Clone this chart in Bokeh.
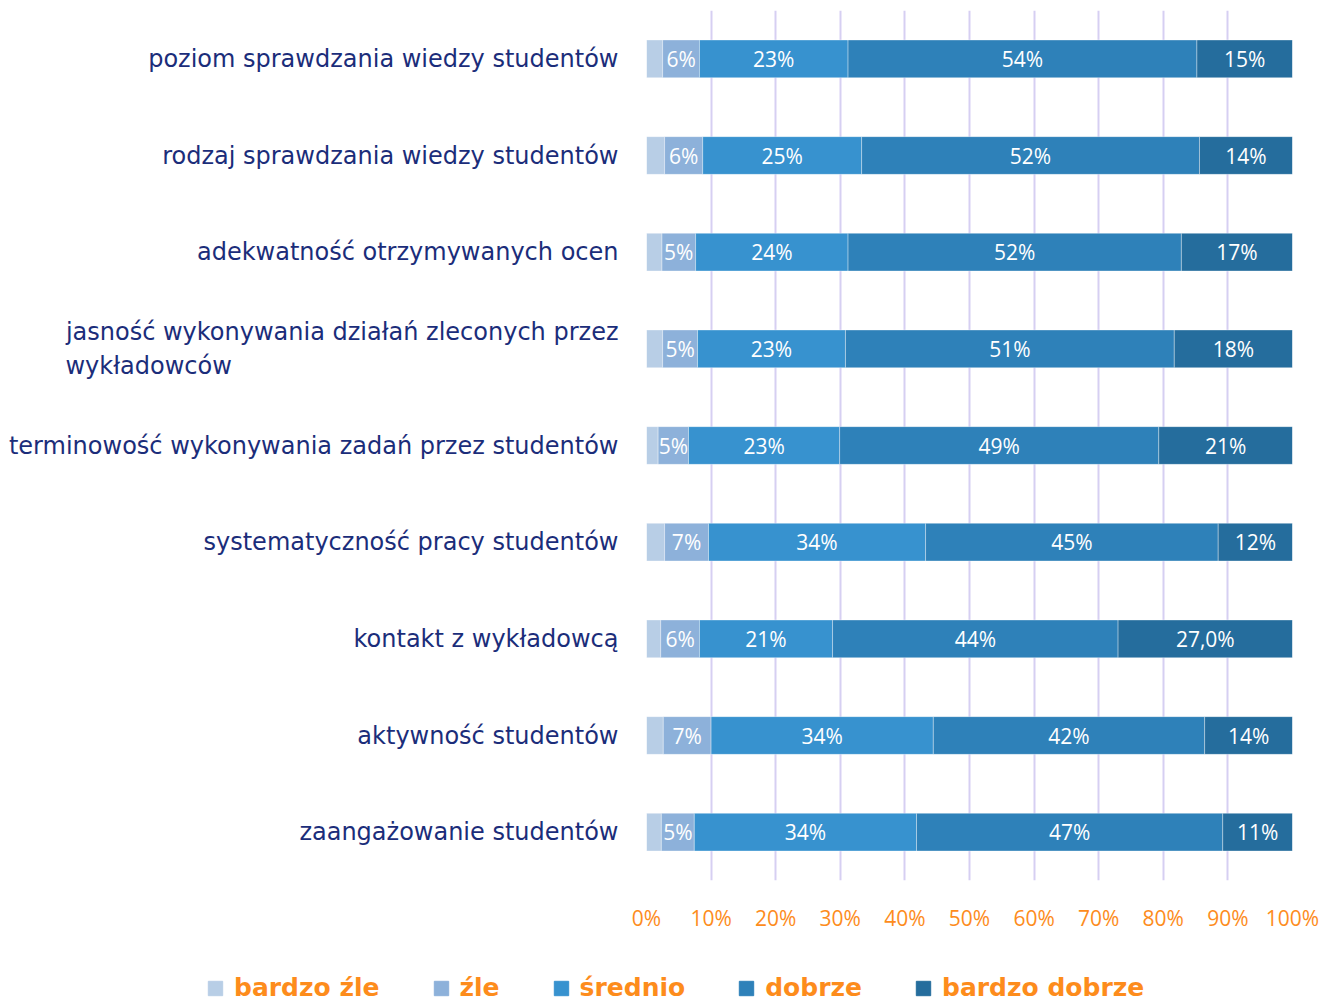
from bokeh.plotting import figure
from bokeh.layouts import column
from bokeh.models import ColumnDataSource, FactorRange, Legend, LegendItem, FixedTicker
from bokeh.core.properties import value
from bokeh.embed import file_html
from bokeh.resources import INLINE

PAD = "\u2800" * 22  # invisible filler so the wrapped second line starts flush left
categories = [
    "poziom sprawdzania wiedzy studentów",
    "rodzaj sprawdzania wiedzy studentów",
    "adekwatność otrzymywanych ocen",
    "jasność wykonywania działań zleconych przez\nwykładowców" + PAD,
    "terminowość wykonywania zadań przez studentów",
    "systematyczność pracy studentów",
    "kontakt z wykładowcą",
    "aktywność studentów",
    "zaangażowanie studentów",
]
series = ["bardzo źle", "źle", "średnio", "dobrze", "bardzo dobrze"]
bardzo_zle = [2.5, 2.8, 2.4, 2.5, 1.8, 2.8, 2.2, 2.6, 2.3]
zle = [5.7, 5.9, 5.2, 5.4, 4.7, 6.8, 6.0, 7.4, 5.1]
srednio = [23.0, 24.6, 23.6, 22.9, 23.4, 33.6, 20.6, 34.4, 34.4]
dobrze = [54.0, 52.3, 51.6, 50.9, 49.4, 45.3, 44.2, 42.0, 47.4]
bardzo_dobrze = [14.8, 14.4, 17.2, 18.3, 20.7, 11.5, 27.0, 13.6, 10.8]
label_overrides = {("kontakt z wykładowcą", "bardzo dobrze"): "27,0%"}
x_ticks = [0, 10, 20, 30, 40, 50, 60, 70, 80, 90, 100]
colors = ["#b8cee6", "#8db1da", "#3792cf", "#2e81b9", "#256d9d"]

NUM_FONT = "Open Sans"
CAT_FONT = "DejaVu Sans"
LEG_FONT = "DejaVu Sans"

data = {"cat": categories}
for name, vals in zip(series, [bardzo_zle, zle, srednio, dobrze, bardzo_dobrze]):
    data[name] = vals
source = ColumnDataSource(data)

p = figure(width=1338, height=960, output_backend="svg", toolbar_location=None,
           y_range=FactorRange(factors=list(reversed(categories)), range_padding=0),
           x_range=(0, 100), min_border_left=646, min_border_right=46,
           min_border_top=10, min_border_bottom=80, frame_align=False)
p.outline_line_color = None

renderers = p.hbar_stack(series, y="cat", height=0.39, color=colors, source=source,
                         line_color="white", line_alpha=0.35, line_width=1)

lx, ly, lt = [], [], []
for i, cat in enumerate(categories):
    cum = 0.0
    for name in series:
        v = data[name][i]
        if name != "bardzo źle":
            lx.append(cum + v / 2)
            ly.append(cat)
            lt.append(label_overrides.get((cat, name), f"{v:.0f}%"))
        cum += v
p.text(x=lx, y=ly, text=lt, text_align="center", text_baseline="middle",
       text_color="white", text_font=value(NUM_FONT), text_font_size="21px")

p.xgrid.grid_line_color = "#d6cff2"
p.xgrid.grid_line_width = 2
p.ygrid.grid_line_color = None
p.xaxis.ticker = FixedTicker(ticks=x_ticks)
p.xaxis.major_label_overrides = {t: f"{t}%" for t in x_ticks}
p.xaxis.axis_line_color = None
p.xaxis.major_tick_line_color = None
p.xaxis.minor_tick_line_color = None
p.xaxis.major_label_text_color = "#fd8c1c"
p.xaxis.major_label_text_font = NUM_FONT
p.xaxis.major_label_text_font_size = "21px"
p.xaxis.major_label_standoff = 17

p.yaxis.axis_line_color = None
p.yaxis.major_tick_line_color = None
p.yaxis.minor_tick_line_color = None
p.yaxis.major_label_text_color = "#1b2d7a"
p.yaxis.major_label_text_font = CAT_FONT
p.yaxis.major_label_text_font_size = "24px"
p.yaxis.major_label_standoff = 22

# legend strip below
lf = figure(width=1338, height=43, output_backend="svg", toolbar_location=None,
            x_range=(0, 1), y_range=(0, 1), min_border=0, frame_align=False)
lf.outline_line_color = None
lf.axis.visible = False
lf.grid.visible = False
dummies = [lf.hbar(y=[5], left=[5], right=[6], height=0.5, color=c) for c in colors]
legend = Legend(items=[LegendItem(label=s, renderers=[r]) for s, r in zip(series, dummies)],
                orientation="horizontal", glyph_width=18, glyph_height=18,
                label_standoff=10, spacing=52, padding=0, margin=0,
                border_line_color=None, background_fill_alpha=0,
                label_text_color="#fd8c1c", label_text_font=LEG_FONT,
                label_text_font_style="bold", label_text_font_size="25px",
                location=(206, 1))
lf.add_layout(legend)

open("out.html", "w").write(file_html(column(p, lf, spacing=0), INLINE))
